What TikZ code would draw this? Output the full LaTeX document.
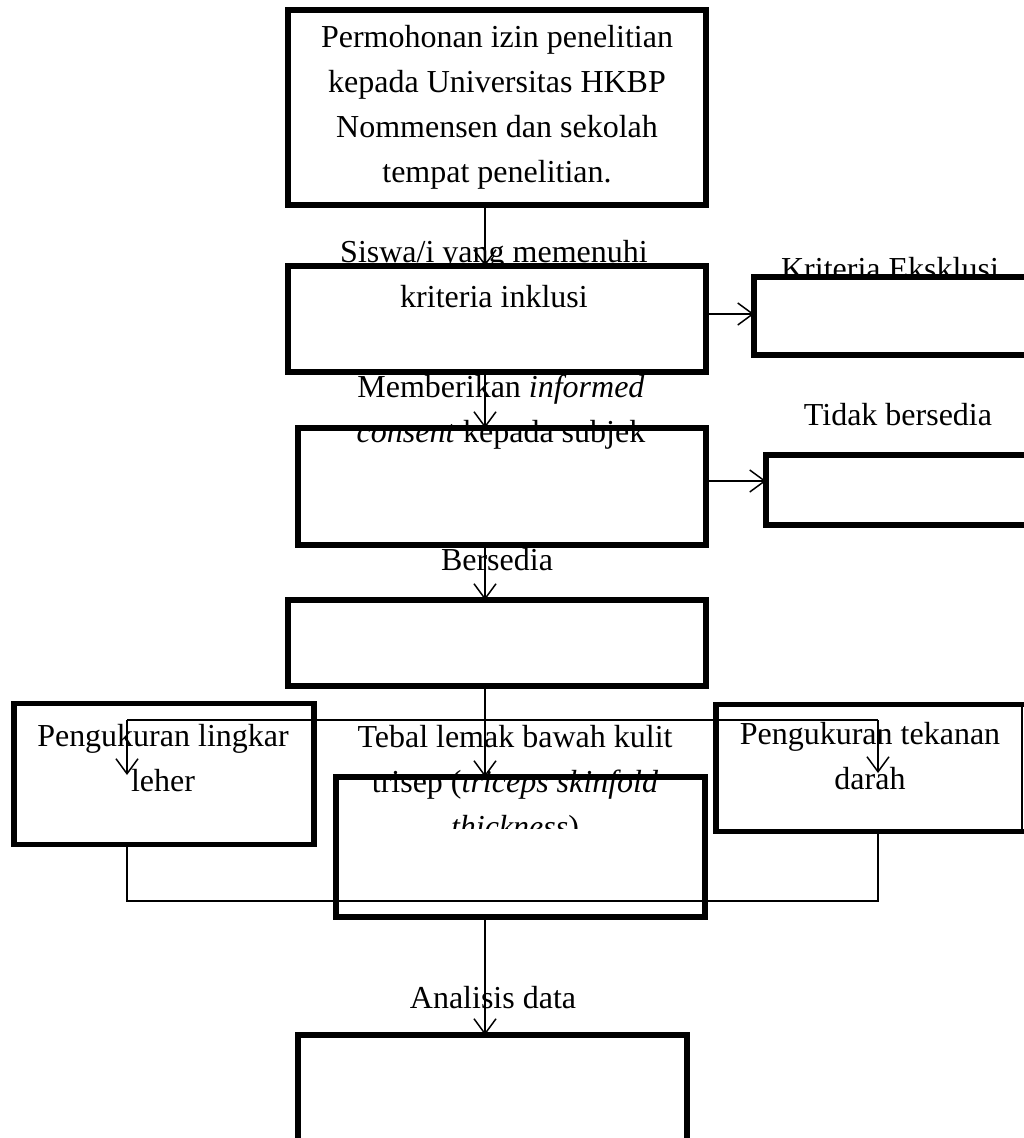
\documentclass[tikz,border=0pt]{standalone}
\usepackage{fontspec}
\setmainfont{Liberation Serif}
\usetikzlibrary{arrows.meta,calc}
\begin{document}
\begin{tikzpicture}[x=1pt,y=-1pt,
  box/.style={draw,line width=5.5pt,inner sep=0pt,outer sep=0pt},
  lbl/.style={font=\fontsize{32}{44.7}\selectfont,align=center,anchor=base,inner sep=0pt},
  conn/.style={draw,line width=1.5pt},
  arr/.style={conn,-{Straight Barb[length=15pt,width=22pt]}}]
\useasboundingbox[fill=white] (0,0) rectangle (1024,1138);
% labels (drawn first, boxes and connectors go over them); anchor = last line's baseline
\node[lbl] (t1) at (497,182) {Permohonan izin penelitian\\kepada Universitas HKBP\\Nommensen dan sekolah\\tempat penelitian.};
\node[lbl] (t2) at (494,307.5) {Siswa/i yang memenuhi\\kriteria inklusi};
\node[lbl] (t2r) at (890,279) {Kriteria Eksklusi};
\node[lbl] (t3) at (501,442) {Memberikan \textit{informed}\\\textit{consent} kepada subjek};
\node[lbl] (t3r) at (898,425) {Tidak bersedia};
\node[lbl] (t4) at (497,570) {Bersedia};
\node[lbl] (tl) at (163,791) {Pengukuran lingkar\\leher};
\begin{scope}
\clip (300,690) rectangle (730,828);
\node[lbl] (tm) at (515,837) {Tebal lemak bawah kulit\\trisep (\textit{triceps skinfold}\\\textit{thickness})};
\end{scope}
\node[lbl] (tr) at (870,789) {Pengukuran tekanan\\darah};
\node[lbl] (t5) at (493,1008) {Analisis data};
% boxes
\node[box,minimum width=418pt,minimum height=195pt] (b1) at (497,107.5) {};
\node[box,minimum width=418pt,minimum height=106pt] (b2) at (497,319) {};
\node[box,minimum width=286pt,minimum height=78pt] (b2r) at (897,316) {};
\node[box,minimum width=408pt,minimum height=117pt] (b3) at (502,486.5) {};
\node[box,minimum width=274pt,minimum height=70pt] (b3r) at (903,490) {};
\node[box,minimum width=418pt,minimum height=86pt] (b4) at (497,643) {};
\node[box,minimum width=300pt,minimum height=141pt] (bl) at (164,774) {};
\node[box,minimum width=369pt,minimum height=140pt] (bm) at (520.5,847) {};
\node[box,minimum width=320pt,minimum height=127pt] (br) at (876,768) {};
\draw[line width=1.2pt] (1022,704) -- (1022,832);
\node[box,minimum width=389pt,minimum height=125pt] (b5) at (492.5,1097.5) {};
% helper coordinates
\coordinate (spine) at (485,0);
\coordinate (r2) at (0,314);
\coordinate (r3) at (0,481);
\coordinate (jc) at (485,720);
\coordinate (jl) at (127,720);
\coordinate (jr) at (878,720);
\coordinate (al) at (127,775);
\coordinate (ar) at (878,773);
\coordinate (kl) at (127,901);
\coordinate (kr) at (878,901);
% connectors
\draw[arr] (b1.south -| spine) -- (b2.north -| spine);
\draw[arr] (b2.east |- r2) -- (b2r.west |- r2);
\draw[arr] (b2.south -| spine) -- (b3.north -| spine);
\draw[arr] (b3.east |- r3) -- (b3r.west |- r3);
\draw[arr] (b3.south -| spine) -- (b4.north -| spine);
\draw[conn] (b4.south -| spine) -- (jc);
\draw[conn] (jl) -- (jr);
\draw[arr] (jl) -- (al);
\draw[arr] (jc) -- (bm.north -| spine);
\draw[arr] (jr) -- (ar);
\draw[conn] (bl.south -| kl) -- (kl) -- (kr) -- (br.south -| kr);
\draw[arr] (bm.south -| spine) -- (b5.north -| spine);
\end{tikzpicture}
\end{document}
